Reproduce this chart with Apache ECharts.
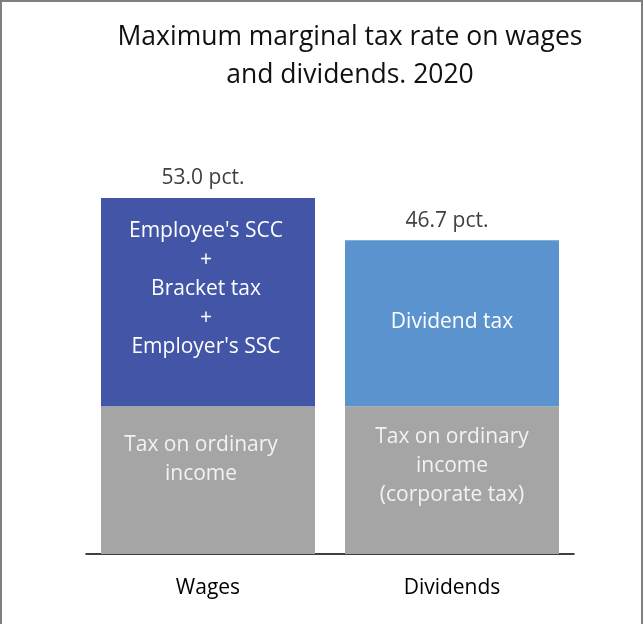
<!DOCTYPE html>
<html>
<head>
<meta charset="utf-8">
<script src="https://cdn.jsdelivr.net/npm/echarts@6/dist/echarts.min.js"></script>
<style>
  html, body { margin: 0; padding: 0; background: #fff; }
  #chart { width: 644px; height: 624px; }
</style>
</head>
<body>
<div id="chart"></div>
<script>
// data
var categories = ['Wages', 'Dividends']
var ordinaryTax = [22, 22]            // grey part
var extraTax = [31, 24.7]             // blue part
var totals = [53.0, 46.7]
var ordinaryText = ['Tax on ordinary\nincome', 'Tax on ordinary\nincome\n(corporate tax)']
var extraText = ["Employee's SCC\n+\nBracket tax\n+\nEmployer's SSC", 'Dividend tax']
var extraColors = ['#4255a6', '#5b93cf']

var chart = echarts.init(document.getElementById('chart'))

var font = '"Open Sans", "Noto Sans", sans-serif'

chart.setOption({
  backgroundColor: '#fff',
  animation: false,
  title: {
    text: 'Maximum marginal tax rate on wages\nand dividends. 2020',
    left: 345,
    top: 13,
    textAlign: 'center',
    textStyle: { fontFamily: font, fontSize: 26.5, fontWeight: 'normal', color: '#111', lineHeight: 38 }
  },
  graphic: [{
    type: 'rect',
    shape: { x: 1, y: 1, width: 641, height: 640 },
    style: { fill: 'none', stroke: '#7f7f7f', lineWidth: 2 },
    silent: true
  }],
  grid: { left: 86, right: 70, top: 198, bottom: 70 },
  xAxis: {
    type: 'category',
    data: categories,
    axisLine: { lineStyle: { color: '#000', width: 1.5 } },
    axisTick: { show: false },
    axisLabel: { fontFamily: font, fontSize: 21, color: '#000', margin: 24 }
  },
  yAxis: {
    type: 'value',
    min: 0,
    max: 53,
    show: false,
    splitLine: { show: false }
  },
  series: [{
    type: 'bar',
    stack: 'tax',
    barWidth: 214,
    itemStyle: { color: '#a5a5a5' },
    data: ordinaryTax.map(function (v, i) {
      return {
        value: v,
        label: {
          show: true,
          position: 'insideTop',
          distance: i === 0 ? 24 : 16,
          offset: [i === 0 ? -7 : 0, 0],
          formatter: ordinaryText[i],
          fontFamily: font,
          fontSize: 21,
          lineHeight: 29,
          color: '#f2f2f2'
        }
      }
    })
  }, {
    type: 'bar',
    stack: 'tax',
    barWidth: 214,
    data: extraTax.map(function (v, i) {
      return {
        value: v,
        itemStyle: { color: extraColors[i] },
        label: {
          show: true,
          position: 'inside',
          offset: [i === 0 ? -2 : 0, i === 0 ? -13 : -1],
          formatter: extraText[i],
          fontFamily: font,
          fontSize: 21,
          lineHeight: 29,
          color: '#fff'
        }
      }
    })
  }, {
    // total labels above the bars
    type: 'bar',
    stack: 'tax',
    barWidth: 214,
    itemStyle: { color: 'transparent' },
    data: totals.map(function (v) { return 0 }),
    label: {
      show: true,
      position: 'top',
      distance: 9,
      offset: [-5, 0],
      formatter: function (p) { return totals[p.dataIndex].toFixed(1) + ' pct.' },
      fontFamily: font,
      fontSize: 21,
      color: '#404040'
    }
  }]
})
</script>
</body>
</html>
